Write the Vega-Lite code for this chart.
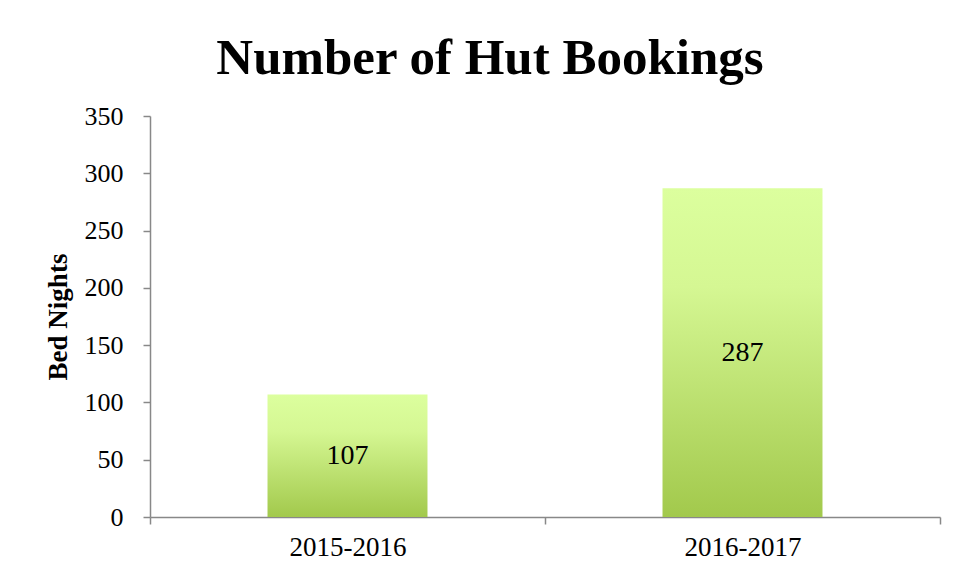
{
  "$schema": "https://vega.github.io/schema/vega-lite/v6.json",
  "width": 790,
  "height": 401,
  "autosize": {"type": "none"},
  "padding": {"left": 150, "top": 116, "right": 19, "bottom": 61},
  "background": "white",
  "title": {
    "text": "Number of Hut Bookings",
    "font": "Liberation Serif",
    "fontSize": 51,
    "fontWeight": "bold",
    "color": "black",
    "anchor": "middle",
    "offset": 18,
    "dx": -55
  },
  "data": {
    "values": [
      {"season": "2015-2016", "nights": 107},
      {"season": "2016-2017", "nights": 287}
    ]
  },
  "config": {
    "view": {"stroke": null},
    "axis": {
      "labelFont": "Liberation Serif",
      "labelColor": "black",
      "titleFont": "Liberation Serif",
      "titleColor": "black",
      "domainColor": "#888888",
      "tickColor": "#888888",
      "domainWidth": 1.5,
      "tickWidth": 1.5,
      "tickSize": 7,
      "grid": false
    }
  },
  "encoding": {
    "x": {
      "field": "season",
      "type": "nominal",
      "scale": {"paddingInner": 0, "paddingOuter": 0},
      "axis": {
        "title": null,
        "labelAngle": 0,
        "labelFontSize": 27,
        "tickBand": "extent",
        "labelPadding": 10
      }
    }
  },
  "layer": [
    {
      "mark": {
        "type": "bar",
        "width": {"band": 0.405},
        "color": {
          "gradient": "linear",
          "x1": 0, "y1": 0, "x2": 0, "y2": 1,
          "stops": [
            {"offset": 0, "color": "#dcff9e"},
            {"offset": 0.3, "color": "#d5f793"},
            {"offset": 1, "color": "#a2c94c"}
          ]
        }
      },
      "encoding": {
        "y": {
          "field": "nights",
          "type": "quantitative",
          "scale": {"domain": [0, 350]},
          "axis": {
            "title": "Bed Nights",
            "titleFontSize": 27,
            "titleFontWeight": "bold",
            "titlePadding": 12,
            "labelFontSize": 26,
            "values": [0, 50, 100, 150, 200, 250, 300, 350],
            "labelPadding": 20
          }
        }
      }
    },
    {
      "transform": [{"calculate": "datum.nights / 2", "as": "mid"}],
      "mark": {
        "type": "text",
        "font": "Liberation Serif",
        "fontSize": 28,
        "color": "black",
        "baseline": "middle"
      },
      "encoding": {
        "y": {"field": "mid", "type": "quantitative"},
        "text": {"field": "nights", "type": "quantitative"}
      }
    }
  ]
}
